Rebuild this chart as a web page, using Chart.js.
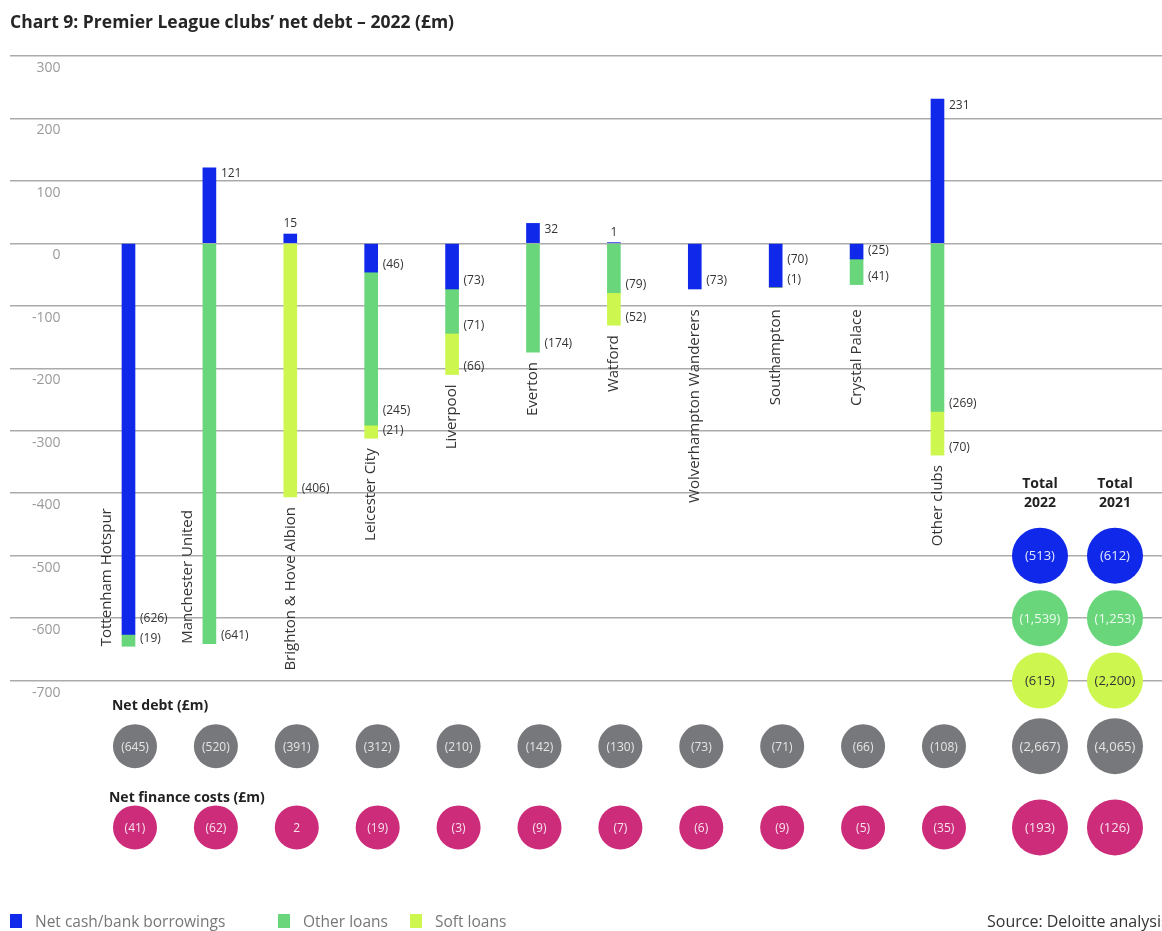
<!DOCTYPE html>
<html>
<head>
<meta charset="utf-8">
<script src="https://cdn.jsdelivr.net/npm/chart.js@4.4.1/dist/chart.umd.min.js"></script>
<style>
  body { margin: 0; background: #fff; font-family: "Open Sans", sans-serif; }
  #wrap { position: relative; width: 1162px; height: 931px; overflow: hidden; }
  #box { position: absolute; left: 0; top: 0; width: 1162px; height: 931px; }
  #title { position: absolute; left: 10px; top: 9px; font-size: 17.5px; font-weight: 700; color: #262626; }
  .leg { position: absolute; top: 910px; font-size: 15.5px; color: #777; display: flex; align-items: center; }
  .leg i { display: inline-block; width: 12px; height: 14px; margin-right: 13px; }
  #source { position: absolute; left: 987px; top: 910px; font-size: 16px; color: #333; white-space: nowrap; }
</style>
</head>
<body>
<div id="wrap">
  <div id="box"><canvas id="chart"></canvas></div>
  <div id="title">Chart 9: Premier League clubs’ net debt – 2022 (£m)</div>
  <div id="legend"></div>
  <div id="source">Source: Deloitte analysis</div>
</div>
<script>
// data (negative = net debt, shown in brackets)
const clubs = ["Tottenham Hotspur", "Manchester United", "Brighton & Hove Albion", "Leicester City",
  "Liverpool", "Everton", "Watford", "Wolverhampton Wanderers", "Southampton", "Crystal Palace", "Other clubs"];
const cashBorrowings = [-626, 121, 15, -46, -73, 32, 1, -73, -70, -25, 231];
const otherLoans = [-19, -641, null, -245, -71, -174, -79, null, null, -41, -269];
const softLoans = [null, null, -406, -21, -66, null, -52, null, -1, null, -70];
const netDebt = [-645, -520, -391, -312, -210, -142, -130, -73, -71, -66, -108];
const netFinanceCosts = [-41, -62, 2, -19, -3, -9, -7, -6, -9, -5, -35];
const totalYears = ["2022", "2021"];
const totalCash = [-513, -612];
const totalOther = [-1539, -1253];
const totalSoft = [-615, -2200];
const totalNetDebt = [-2667, -4065];
const totalFinance = [-193, -126];
const seriesNames = ["Net cash/bank borrowings", "Other loans", "Soft loans"];

// layout / style
const COLORS = { cash: "#0f28e9", other: "#69d67b", soft: "#cdf74f", debt: "#77787b", finance: "#cc2c7a" };
const ROWS = { cash: -500, other: -600, soft: -700, netDebt: -805, finance: -935 };
const LEGEND_LEFT = [10, 278, 410];

function fmt(v) {
  return v < 0 ? "(" + Math.abs(v).toLocaleString("en-GB") + ")" : String(v);
}

const legend = document.getElementById("legend");
[COLORS.cash, COLORS.other, COLORS.soft].forEach((c, i) => {
  const d = document.createElement("div");
  d.className = "leg";
  d.style.left = LEGEND_LEFT[i] + "px";
  d.innerHTML = `<i style="background:${c}"></i>${seriesNames[i]}`;
  legend.appendChild(d);
});

const barSet = (label, values, color) => ({
  type: "bar", label, stack: "debt", backgroundColor: color, barThickness: 13,
  data: values.map((v, i) => ({ x: i, y: v })),
});
const bubbleSet = (id, values, row, color, text, xAxisID, r) => ({
  type: "bubble", label: id, stack: id, xAxisID, radius: r, backgroundColor: color,
  borderWidth: 0, textColor: text,
  data: values.map((v, i) => ({ x: i, y: row, v })),
});

const annotate = {
  id: "annotate",
  afterDatasetsDraw(chart) {
    const ctx = chart.ctx;
    const ys = chart.scales.y;
    const zero = ys.getPixelForValue(0);
    ctx.save();
    ctx.fillStyle = "#333";
    clubs.forEach((name, i) => {
      ctx.font = '12px "Open Sans"';
      const negs = [];
      let bottom = zero;
      let barX = 0;
      [0, 1, 2].forEach((d) => {
        const v = chart.data.datasets[d].data[i].y;
        const el = chart.getDatasetMeta(d).data[i];
        if (d === 0) barX = el.x;
        if (v == null) return;
        const right = el.x + el.width / 2;
        if (v > 0) {
          if (v < 20) {
            ctx.textAlign = "center"; ctx.textBaseline = "middle";
            ctx.fillText(fmt(v), el.x, el.y - 10);
          } else {
            ctx.textAlign = "left"; ctx.textBaseline = "middle";
            ctx.fillText(fmt(v), right + 5, el.y + 6);
          }
        } else {
          negs.push({ x: right + 5, y: el.y - 8, t: fmt(v) });
          bottom = Math.max(bottom, el.y);
        }
      });
      for (let k = negs.length - 2; k >= 0; k--) {
        if (negs[k].y > negs[k + 1].y - 20) negs[k].y = negs[k + 1].y - 20;
      }
      ctx.textAlign = "left"; ctx.textBaseline = "middle";
      negs.forEach((n) => ctx.fillText(n.t, n.x, n.y));

      // club name, rotated
      ctx.font = '15px "Open Sans"';
      const w = ctx.measureText(name).width;
      const anchor = Math.max(bottom + 10, zero + 66);
      ctx.save();
      if (anchor + w > ys.getPixelForValue(-700)) {
        ctx.translate(barX - 22, bottom);
        ctx.rotate(-Math.PI / 2);
        ctx.textAlign = "left";
      } else {
        ctx.translate(barX, anchor);
        ctx.rotate(-Math.PI / 2);
        ctx.textAlign = "right";
      }
      ctx.textBaseline = "middle";
      ctx.fillText(name, 0, 0);
      ctx.restore();
    });

    // circle values
    chart.data.datasets.forEach((ds, d) => {
      if (ds.type !== "bubble") return;
      const meta = chart.getDatasetMeta(d);
      ctx.font = (ds.xAxisID === "xt" ? "13px" : "12px") + ' "Open Sans"';
      ctx.fillStyle = ds.textColor;
      ctx.textAlign = "center"; ctx.textBaseline = "middle";
      meta.data.forEach((el, j) => ctx.fillText(fmt(ds.data[j].v), el.x, el.y + 1));
    });

    // headers
    const x0 = chart.scales.x.getPixelForValue(0);
    ctx.fillStyle = "#222";
    ctx.font = 'bold 14px "Open Sans"';
    ctx.textAlign = "left"; ctx.textBaseline = "middle";
    ctx.fillText("Net debt (£m)", x0 - 23, ys.getPixelForValue(ROWS.netDebt) - 40);
    ctx.fillText("Net finance costs (£m)", x0 - 26, ys.getPixelForValue(ROWS.finance) - 29);
    ctx.textAlign = "center";
    const cy = ys.getPixelForValue(ROWS.cash);
    totalYears.forEach((yr, j) => {
      const tx = chart.scales.xt.getPixelForValue(j);
      ctx.fillText("Total", tx, cy - 72);
      ctx.fillText(yr, tx, cy - 53);
    });
    ctx.restore();
  },
};

new Chart(document.getElementById("chart"), {
  type: "bar",
  data: {
    datasets: [
      barSet(seriesNames[0], cashBorrowings, COLORS.cash),
      barSet(seriesNames[1], otherLoans, COLORS.other),
      barSet(seriesNames[2], softLoans, COLORS.soft),
      bubbleSet("netDebt", netDebt, ROWS.netDebt, COLORS.debt, "#e6e6e6", "x", 22),
      bubbleSet("finance", netFinanceCosts, ROWS.finance, COLORS.finance, "#f6e3ec", "x", 22),
      bubbleSet("tCash", totalCash, ROWS.cash, COLORS.cash, "#e4e8ff", "xt", 28),
      bubbleSet("tOther", totalOther, ROWS.other, COLORS.other, "#eefbef", "xt", 28),
      bubbleSet("tSoft", totalSoft, ROWS.soft, COLORS.soft, "#333", "xt", 28),
      bubbleSet("tDebt", totalNetDebt, ROWS.netDebt, COLORS.debt, "#e6e6e6", "xt", 28),
      bubbleSet("tFinance", totalFinance, ROWS.finance, COLORS.finance, "#f6e3ec", "xt", 28),
    ],
  },
  options: {
    responsive: true,
    maintainAspectRatio: false,
    animation: false,
    layout: { autoPadding: false, padding: { left: 10, right: 0, top: 56, bottom: 63 } },
    plugins: { legend: { display: false }, tooltip: { enabled: false } },
    scales: {
      x: { type: "linear", display: false, offset: false, stacked: true, min: -1.545, max: 12.695 },
      xt: { type: "linear", display: false, offset: false, min: -13.733, max: 1.627 },
      y: {
        stacked: true,
        min: -1000,
        max: 300,
        afterBuildTicks: (scale) => { scale.ticks = scale.ticks.filter((t) => t.value >= -700); },
        afterFit: (scale) => { scale.width = 0; },
        border: { display: false },
        grid: { color: "#ababab", lineWidth: 1.5, drawTicks: false },
        ticks: {
          stepSize: 100, mirror: true, crossAlign: "far", padding: 22, labelOffset: 12,
          color: "#9a9a9a", font: { family: "Open Sans", size: 14 },
        },
      },
    },
  },
  plugins: [annotate],
});
</script>
</body>
</html>
